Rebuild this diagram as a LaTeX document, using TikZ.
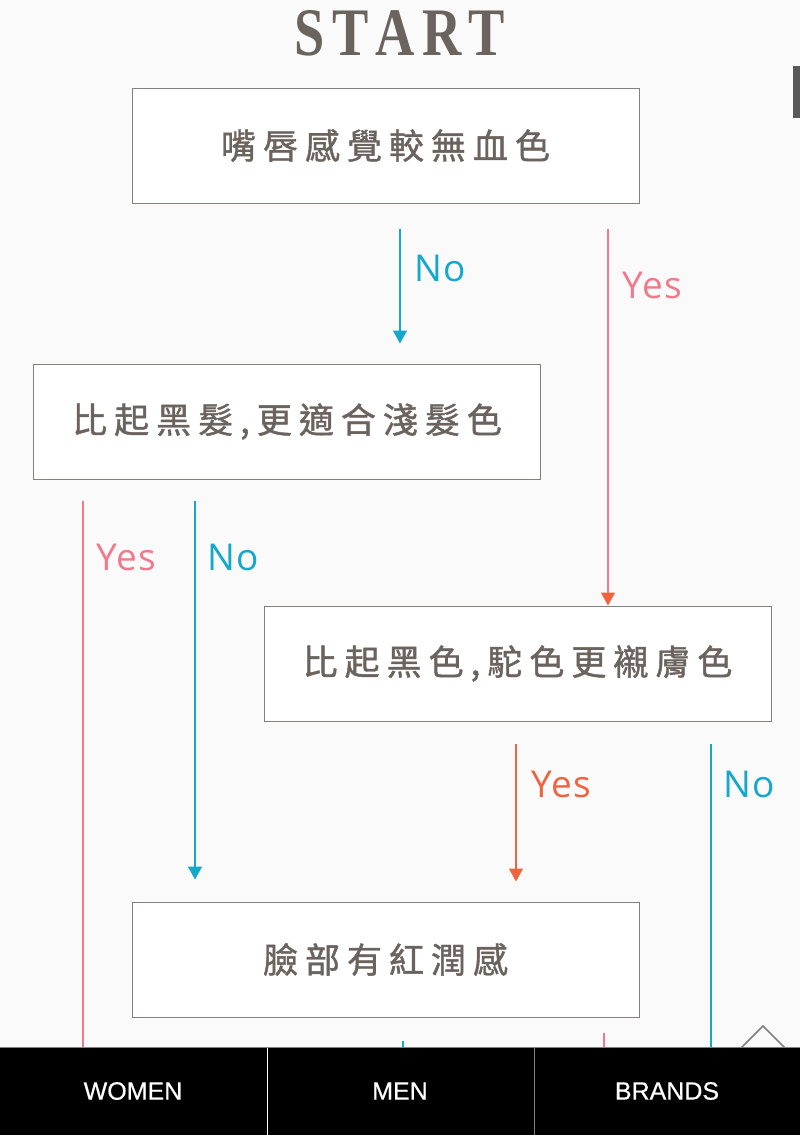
\documentclass[tikz,border=0pt]{standalone}
\usepackage{fontspec}
\setmainfont{Liberation Serif}
\newfontfamily\cjkfont[LetterSpace=20, FakeBold=1.2]{Noto Sans CJK TC}
\newfontfamily\labelfont[LetterSpace=4]{Open Sans}
\newfontfamily\navfont[FakeBold=0.6]{Liberation Sans}
\usetikzlibrary{arrows.meta}

\definecolor{bggray}{HTML}{FAFAFA}
\definecolor{txtgray}{HTML}{6B635D}
\definecolor{boxgray}{HTML}{85807C}
\definecolor{noblue}{HTML}{14A8CA}
\definecolor{yespink}{HTML}{F07A8C}
\definecolor{yesorange}{HTML}{EE643E}

\begin{document}
\begin{tikzpicture}[
		x=1pt, y=-1pt,
		qbox/.style={draw=boxgray, fill=white, line width=1pt, minimum width=507pt, minimum height=115pt, inner sep=0pt, text=txtgray, font=\cjkfont\fontsize{35}{35}\selectfont},
		noline/.style={draw=noblue, line width=1.5pt},
		yesline/.style={draw=yespink, line width=1.5pt},
		yes2line/.style={draw=yesorange, line width=1.5pt},
		headtip/.style={-{Triangle[width=14pt, length=13pt]}},
		answer/.style={anchor=base west, inner sep=0pt, font=\labelfont\fontsize{37}{37}\selectfont},
		navitem/.style={text=white, inner sep=0pt, font=\navfont\fontsize{25}{25}\selectfont}
		]
		
		\useasboundingbox (0,0) rectangle (800,1135);
		\fill[bggray] (0,0) rectangle (800,1135);
		
		% title
		\node[anchor=base, text=txtgray, inner sep=0pt, font=\bfseries\fontsize{68}{68}\selectfont] (title) at (400,55)
		{\scalebox{0.8}[1]{S\kern9pt T\kern9pt A\kern9pt R\kern9pt T}};
		
		% questions
		\node[qbox] (q1) at (385.5,145.5) {嘴唇感覺較無血色};
		\node[qbox] (q2) at (287,421.5) {比起黑髮,更適合淺髮色};
		\node[qbox] (q3) at (517.5,663.5) {比起黑色,駝色更襯膚色};
		\node[qbox] (q4) at (385.5,959.5) {臉部有紅潤感};
		
		% bottom bar
		\node[fill=black, minimum width=800pt, minimum height=87pt, inner sep=0pt] (nav) at (400,1091.5) {};
		
		% connectors
		\draw[noline, headtip, shorten <=25pt, shorten >=20pt] (q1.south -| 400,0) -- (q2.north -| 400,0);
		\draw[yesline, -{Triangle[width=14pt, length=13pt, color=yesorange]}, shorten <=25pt] (q1.south -| 608,0) -- (q3.north -| 608,0);
		\draw[yesline, shorten <=21pt] (q2.south -| 83,0) -- (nav.north -| 83,0);
		\draw[noline, headtip, shorten <=21pt, shorten >=22pt] (q2.south -| 195,0) -- (q4.north -| 195,0);
		\draw[yes2line, headtip, shorten <=22pt, shorten >=20pt] (q3.south -| 516,0) -- (q4.north -| 516,0);
		\draw[noline, shorten <=22pt] (q3.south -| 711,0) -- (nav.north -| 711,0);
		\draw[noline, shorten <=23pt] (q4.south -| 403,0) -- (nav.north -| 403,0);
		\draw[yesline, shorten <=15pt] (q4.south -| 604,0) -- (nav.north -| 604,0);
		
		% answers
		\node[answer, text=noblue] (a1no) at (414,281) {No};
		\node[answer, text=yespink] (a1yes) at (622,298) {Yes};
		\node[answer, text=yespink] (a2yes) at (96,570) {Yes};
		\node[answer, text=noblue] (a2no) at (207,570) {No};
		\node[answer, text=yesorange] (a3yes) at (531,797) {Yes};
		\node[answer, text=noblue] (a3no) at (723,797) {No};
		
		% back to top
		\draw[gray, line width=1.5pt] (740,1049) -- (763,1026) -- (786,1049);
		\fill[black!65] (793,66) rectangle (800,118);
		
		% bottom bar items
		\fill[black] (nav.north west) rectangle (nav.south east);
		\draw[gray, line width=1pt] (nav.north west) -- (nav.north east);
		\draw[white, line width=1pt] (267,1048) -- (267,1135);
		\draw[gray, line width=1pt] (534,1048) -- (534,1135);
		\node[navitem] (women) at (133,1091) {WOMEN};
		\node[navitem] (men) at (400,1091) {MEN};
		\node[navitem] (brands) at (667,1091) {BRANDS};
		
	\end{tikzpicture}
\end{document}
